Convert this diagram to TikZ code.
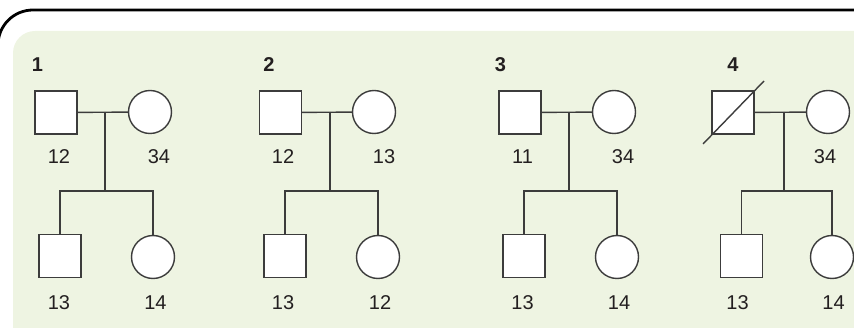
\documentclass[tikz,border=0pt]{standalone}
\usepackage{fontspec}
\setmainfont{Liberation Sans}
\definecolor{panel}{RGB}{238,244,226}
\definecolor{ink}{RGB}{60,60,60}
\definecolor{txt}{RGB}{35,31,32}
\begin{document}
\begin{tikzpicture}[x=1pt,y=-1pt,
  male/.style={draw=ink,line width=1.4pt,fill=white,rectangle,
    minimum width=42pt,minimum height=43pt,inner sep=0pt},
  female/.style={draw=ink,line width=1.4pt,fill=white,circle,
    minimum size=43pt,inner sep=0pt},
  link/.style={draw=ink,line width=1.4pt},
  age/.style={font=\fontsize{20}{22}\selectfont,text=txt,inner sep=0pt},
  num/.style={font=\bfseries\fontsize{20}{22}\selectfont,text=txt,inner sep=0pt}]
\useasboundingbox (0,0) rectangle (854,328);

% background panel and outer frame
\fill[panel,rounded corners=22pt] (13,380) -- (13,31) -- (900,31) -- (900,380) -- cycle;
\draw[black,line width=2.8pt,rounded corners=35pt] (-2,420) -- (-2,10) -- (920,10);

% ---- family 1 ----
\node[num] (n1) at (37.5,65) {1};
\node[male]   (m1)  at (56,112.5) {};
\node[female] (f1)  at (150,112) {};
\node[male]   (cm1) at (60,256) {};
\node[female] (cf1) at (153,257) {};
\coordinate (d1) at (105,112);
\coordinate (s1) at (105,191);
\draw[link] (m1) -- (f1);
\draw[link] (d1) -- (s1);
\draw[link] (cm1.north) |- (s1) -| (cf1.north);
\node[age] (a1m)  at (59,157)  {12};
\node[age] (a1f)  at (159,157) {34};
\node[age] (a1cm) at (59,303)  {13};
\node[age] (a1cf) at (155.5,303) {14};

% ---- family 2 ----
\node[num] (n2) at (269,65) {2};
\node[male]   (m2)  at (280.5,112.5) {};
\node[female] (f2)  at (374,112) {};
\node[male]   (cm2) at (285,256) {};
\node[female] (cf2) at (378,257) {};
\coordinate (d2) at (330,112);
\coordinate (s2) at (330,191);
\draw[link] (m2) -- (f2);
\draw[link] (d2) -- (s2);
\draw[link] (cm2.north) |- (s2) -| (cf2.north);
\node[age] (a2m)  at (283,157) {12};
\node[age] (a2f)  at (384,157) {13};
\node[age] (a2cm) at (283,303) {13};
\node[age] (a2cf) at (380,303) {12};

% ---- family 3 ----
\node[num] (n3) at (500.5,65) {3};
\node[male]   (m3)  at (520,112.5) {};
\node[female] (f3)  at (614,112) {};
\node[male]   (cm3) at (524,256) {};
\node[female] (cf3) at (617,257) {};
\coordinate (d3) at (569,112);
\coordinate (s3) at (569,191);
\draw[link] (m3) -- (f3);
\draw[link] (d3) -- (s3);
\draw[link] (cm3.north) |- (s3) -| (cf3.north);
\node[age] (a3m)  at (522.5,157) {11};
\node[age] (a3f)  at (623,157)   {34};
\node[age] (a3cm) at (522.5,303) {13};
\node[age] (a3cf) at (619,303)   {14};

% ---- family 4 (father deceased) ----
\node[num] (n4) at (733,65) {4};
\node[male]   (m4)  at (733,112.5) {};
\node[female] (f4)  at (828,112) {};
\node[male]   (cm4) at (741.5,256) {};
\node[female] (cf4) at (832,257) {};
\coordinate (d4) at (784,112);
\coordinate (s4) at (784,191);
\draw[link] (m4) -- (f4);
\draw[link] (d4) -- (s4);
\draw[link] (cm4.north) |- (s4) -| (cf4.north);
\draw[link] ([shift={(-30,31.5)}]m4.center) -- ([shift={(31,-31.5)}]m4.center);
\node[age] (a4f)  at (825,157)   {34};
\node[age] (a4cm) at (737.5,303) {13};
\node[age] (a4cf) at (833.5,303) {14};
\end{tikzpicture}
\end{document}
